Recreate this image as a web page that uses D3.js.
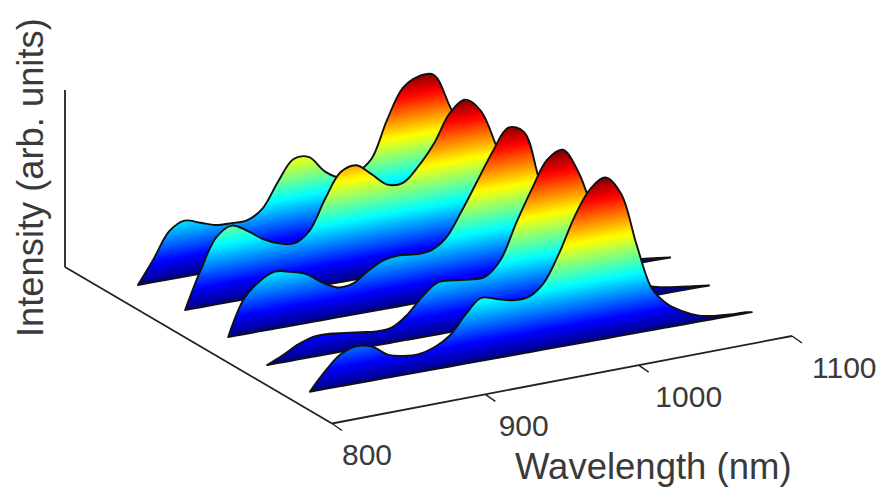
<!DOCTYPE html>
<html>
<head>
<meta charset="utf-8">
<script src="https://cdn.jsdelivr.net/npm/d3@7"></script>
<style>
  body { margin: 0; background: #fff; }
  text { font-family: "Liberation Sans", Arial, sans-serif; fill: #3a3a3a; }
</style>
</head>
<body>
<svg id="chart" width="883" height="492"></svg>
<script>
const TICKS = [800, 900, 1000, 1100];

// spectra front to back, intensity in arb. units, one value per sample
const SPECTRUM_1 = [0, 18, 32, 37, 34, 23, 19, 18, 22, 31, 49, 63, 59, 55, 55, 66, 93, 127, 152, 161, 142, 88, 41, 23, 13, 6, 3, 1.5, 1, 0];
const SPECTRUM_2 = [0, 7, 15, 20, 20, 18, 16, 14, 15, 25, 41, 52, 51, 49, 49, 63, 97, 128, 155, 162, 137, 92, 45, 25, 14, 8, 5, 3, 1, 0];
const SPECTRUM_3 = [0, 35, 50, 57, 54, 49, 38, 30, 31, 41, 49, 51, 49, 50, 60, 84, 111, 138, 159, 152, 101, 60, 30, 18, 10, 6, 4, 3, 1, 0];
const SPECTRUM_4 = [0, 37, 67, 76, 68, 57, 50, 47, 57, 86, 110, 114, 102, 89, 88, 102, 122, 149, 160, 146, 108, 68, 36, 20, 12, 7, 4, 2, 1, 0];
const SPECTRUM_5 = [0, 23, 48, 56, 51, 46, 45, 45, 54, 78, 98, 97, 80, 71, 73, 84, 120, 149, 158, 157, 124, 85, 50, 28, 15, 8, 4, 2, 1, 0];

const ONSETS = [816, 817.4, 821.8, 823.3, 821.1];
const DEPTHS = [0.175, 0.343, 0.514, 0.684, 0.848];
const OFFSETS = d3.range(29).map(i => i * 10.15).concat(288.3);

const SPECTRA = [SPECTRUM_5, SPECTRUM_4, SPECTRUM_3, SPECTRUM_2, SPECTRUM_1];
const BACK_TO_FRONT_ONSETS = ONSETS.slice().reverse();
const BACK_TO_FRONT_DEPTHS = DEPTHS.slice().reverse();

const PEAK = 162;
const LEVELS = 64;

const X_SCALE = d3.scaleLinear().domain([800, 1100]).range([332, 792]);
const AXIS_Y = d3.scaleLinear().domain([800, 1100]).range([423.5, 336]);
const FLOOR_Y = d3.scaleLinear().domain([800, 1100]).range([423.5, 340.7]);
const LABEL_X = d3.scaleLinear().domain([800, 1100]).range([342, 812]);
const LABEL_Y = d3.scaleLinear().domain([800, 1100]).range([465, 378]);
const DEPTH_X = d3.scaleLinear().domain([0, 1]).range([0, -267]);
const DEPTH_Y = d3.scaleLinear().domain([0, 1]).range([0, -156.5]);
const Z_SCALE = d3.scaleLinear().domain([0, 177]).range([0, -177]);

function jet(v) {
  const clamp = c => Math.round(255 * Math.max(0, Math.min(1, c)));
  const r = clamp(Math.min(4 * v - 1.5, -4 * v + 4.5));
  const g = clamp(Math.min(4 * v - 0.5, -4 * v + 3.5));
  const b = clamp(Math.min(4 * v + 0.5, -4 * v + 2.5));
  return `rgb(${r},${g},${b})`;
}

function createRidge(chart, defs, values, index) {
  const onset = BACK_TO_FRONT_ONSETS[index];
  const depth = BACK_TO_FRONT_DEPTHS[index];
  const points = values.map((value, i) => ({ wavelength: onset + OFFSETS[i], value }));

  const px = d => X_SCALE(d.wavelength) + DEPTH_X(depth);
  const floor = d => FLOOR_Y(d.wavelength) + DEPTH_Y(depth);

  const profile = d3.area()
    .x(px)
    .y0(floor)
    .y1(d => floor(d) + Z_SCALE(d.value))
    .curve(d3.curveCatmullRom.alpha(0.5));

  const clipId = `ridge-clip-${index}`;
  defs.append("clipPath").attr("id", clipId).append("path").attr("d", profile(points));

  const ridge = chart.append("g").attr("clip-path", `url(#${clipId})`);

  // painted bottom up so that no seams show between the colour levels
  ridge
    .selectAll(".level")
    .data(d3.range(LEVELS))
    .enter()
    .append("path")
    .classed("level", true)
    .attr("fill", level => jet((level + 0.5) / LEVELS))
    .attr("d", level => d3.area()
      .x(px)
      .y0(d => floor(d) + Z_SCALE(level / LEVELS * PEAK) + 1)
      .y1(d => floor(d) + Z_SCALE(PEAK + 4))(points));

  chart
    .append("path")
    .attr("d", profile(points))
    .attr("fill", "none")
    .attr("stroke", "#111")
    .attr("stroke-width", 1.9)
    .attr("stroke-linejoin", "round");
}

function createAxes(chart) {
  const lines = [
    [65, 267 + Z_SCALE(177), 65, 267],
    [65, 267, X_SCALE(800), AXIS_Y(800)],
    [X_SCALE(800), AXIS_Y(800), X_SCALE(1100), AXIS_Y(1100)]
  ];

  chart
    .selectAll(".axis-line")
    .data(lines)
    .enter()
    .append("line")
    .classed("axis-line", true)
    .attr("x1", d => d[0])
    .attr("y1", d => d[1])
    .attr("x2", d => d[2])
    .attr("y2", d => d[3])
    .attr("stroke", "#222")
    .attr("stroke-width", 1.8);

  chart
    .selectAll(".tick-mark")
    .data(TICKS)
    .enter()
    .append("line")
    .classed("tick-mark", true)
    .attr("x1", d => X_SCALE(d))
    .attr("y1", d => AXIS_Y(d))
    .attr("x2", d => X_SCALE(d) + 10)
    .attr("y2", d => AXIS_Y(d) + 7)
    .attr("stroke", "#222")
    .attr("stroke-width", 1.5);

  chart
    .selectAll(".tick-label")
    .data(TICKS)
    .enter()
    .append("text")
    .classed("tick-label", true)
    .text(d => d)
    .attr("x", d => LABEL_X(d))
    .attr("y", d => LABEL_Y(d))
    .attr("font-size", 30);

  chart
    .append("text")
    .text("Wavelength (nm)")
    .attr("x", 515)
    .attr("y", 479)
    .attr("font-size", 36.5);

  chart
    .append("text")
    .text("Intensity (arb. units)")
    .attr("transform", "translate(43, 337) rotate(-90)")
    .attr("font-size", 36.3);
}

function renderChart() {
  const chart = d3.select("#chart");
  const defs = chart.append("defs");
  createAxes(chart);
  SPECTRA.forEach((values, index) => createRidge(chart, defs, values, index));
}

renderChart();
</script>
</body>
</html>
